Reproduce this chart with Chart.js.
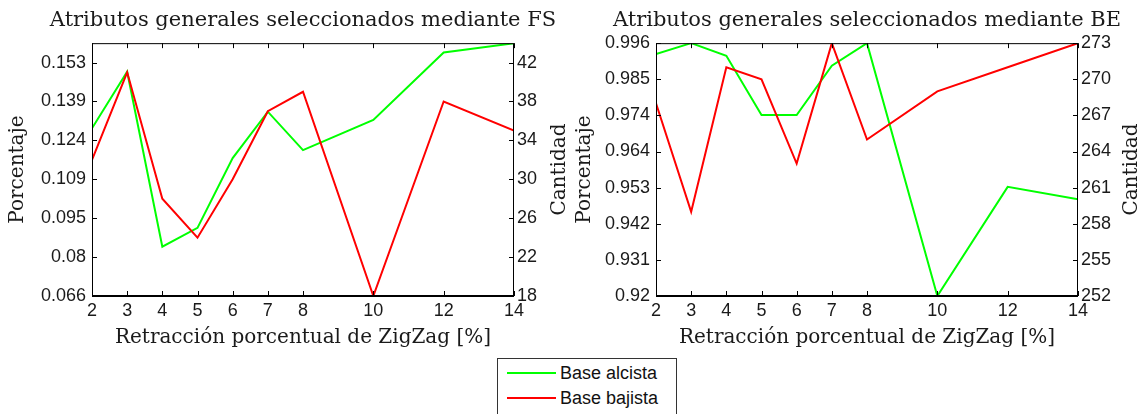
<!DOCTYPE html>
<html>
<head>
<meta charset="utf-8">
<script src="https://cdn.jsdelivr.net/npm/chart.js@4.4.1/dist/chart.umd.min.js"></script>
<style>
  html, body { margin: 0; padding: 0; background: #fff; width: 1147px; height: 414px; overflow: hidden; position: relative; }
  .box { position: absolute; top: 0; height: 352px; }
  #fsBox { left: 0; width: 606px; }
  #beBox { left: 567px; width: 600px; }
  #legend { position: absolute; left: 497px; top: 358px; width: 178px; height: 70px; border: 1px solid #333; background: #fff;
            font: 18px "Liberation Sans", Arial, sans-serif; color: #111; }
  #legend .row { position: absolute; left: 9px; height: 22px; display: flex; align-items: center; white-space: nowrap; }
  #legend .swatch { width: 49px; height: 2px; margin-right: 4px; }
</style>
</head>
<body>
<div class="box" id="fsBox"><canvas id="fsChart"></canvas></div>
<div class="box" id="beBox"><canvas id="beChart"></canvas></div>
<div id="legend"></div>

<script>
// ZigZag retraction (%) on the x axis
const zigzag = [2, 3, 4, 5, 6, 7, 8, 10, 12, 14];
const xTicks = [2, 3, 4, 5, 6, 7, 8, 10, 12, 14];

// FS: percentage (bullish base) and count (bearish base)
const fsAlcista = [0.1285, 0.1496, 0.0844, 0.0914, 0.1174, 0.1347, 0.1204, 0.1316, 0.1568, 0.1602];
const fsBajista = [32, 41, 28, 24, 30, 37, 39, 18, 38, 35];
const fsPctTicks = [0.066, 0.0805, 0.095, 0.1095, 0.124, 0.1385, 0.153];
const fsPctLabels = ['0.066', '0.08', '0.095', '0.109', '0.124', '0.139', '0.153'];
const fsCntTicks = [18, 22, 26, 30, 34, 38, 42];

// BE: percentage (bullish base) and count (bearish base)
const beAlcista = [0.9927, 0.996, 0.9922, 0.9744, 0.9744, 0.9892, 0.996, 0.92, 0.9528, 0.9491];
const beBajista = [268, 259, 271, 270, 263, 273, 265, 269, 271, 273];
const bePctTicks = [0.92, 0.930857, 0.941714, 0.952571, 0.963429, 0.974286, 0.985143, 0.996];
const bePctLabels = ['0.92', '0.931', '0.942', '0.953', '0.964', '0.974', '0.985', '0.996'];
const beCntTicks = [252, 255, 258, 261, 264, 267, 270, 273];

const SANS = '"Liberation Sans", Arial, sans-serif';
const SERIF = '"DejaVu Serif", serif';
const INK = '#1a1a1a';

// box around the axes, inward ticks, and the right-hand label read bottom-to-top
const matlabAxes = {
  id: 'matlabAxes',
  afterDatasetsDraw(chart, args, opts) {
    const { ctx, chartArea: a, scales } = chart;
    ctx.save();
    ctx.strokeStyle = '#000';
    ctx.lineWidth = 1;
    ctx.strokeRect(a.left + 0.5, a.top + 0.5, a.right - a.left - 1, a.bottom - a.top);
    ctx.lineWidth = 2;
    ctx.beginPath();
    ctx.moveTo(a.left, a.bottom); ctx.lineTo(a.right, a.bottom);
    ctx.stroke();

    ctx.lineWidth = 1;
    ctx.beginPath();
    scales.x.ticks.forEach(t => {
      const px = Math.round(scales.x.getPixelForValue(t.value)) + 0.5;
      ctx.moveTo(px, a.bottom); ctx.lineTo(px, a.bottom - 5);
      ctx.moveTo(px, a.top); ctx.lineTo(px, a.top + 5);
    });
    scales.yL.ticks.forEach(t => {
      const py = Math.round(scales.yL.getPixelForValue(t.value)) + 0.5;
      ctx.moveTo(a.left, py); ctx.lineTo(a.left + 5, py);
    });
    scales.yR.ticks.forEach(t => {
      const py = Math.round(scales.yR.getPixelForValue(t.value)) + 0.5;
      ctx.moveTo(a.right, py); ctx.lineTo(a.right - 5, py);
    });
    ctx.stroke();

    ctx.fillStyle = INK;
    ctx.font = '20px ' + SERIF;
    ctx.textAlign = 'center';
    ctx.textBaseline = 'middle';
    ctx.translate(opts.titleX, (a.top + a.bottom) / 2);
    ctx.rotate(-Math.PI / 2);
    ctx.fillText(opts.title, 0, 0);
    ctx.restore();
  }
};

function makeChart(id, o) {
  const tickFont = { family: SANS, size: 18 };
  const titleFont = { family: SERIF, size: 20, weight: 'normal' };
  return new Chart(document.getElementById(id), {
    type: 'line',
    data: {
      datasets: [
        { label: 'Base alcista', data: zigzag.map((x, i) => ({ x, y: o.alcista[i] })), yAxisID: 'yL',
          borderColor: '#00ff00', backgroundColor: '#00ff00', borderWidth: 2, pointRadius: 0, tension: 0, order: 1 },
        { label: 'Base bajista', data: zigzag.map((x, i) => ({ x, y: o.bajista[i] })), yAxisID: 'yR',
          borderColor: '#ff0000', backgroundColor: '#ff0000', borderWidth: 2, pointRadius: 0, tension: 0, order: 0 }
      ]
    },
    plugins: [matlabAxes],
    options: {
      responsive: true,
      maintainAspectRatio: false,
      animation: false,
      devicePixelRatio: 1,
      layout: { padding: 0 },
      plugins: {
        legend: { display: false },
        tooltip: { enabled: false },
        title: { display: true, text: o.title, font: { family: SERIF, size: 21, weight: 'normal', lineHeight: 1.15 },
                 color: INK, padding: { top: 8, bottom: 11 } },
        matlabAxes: { title: 'Cantidad', titleX: o.rightTitleX }
      },
      scales: {
        x: {
          type: 'linear', min: 2, max: 14,
          afterBuildTicks: s => { s.ticks = xTicks.map(v => ({ value: v })); },
          afterFit: s => { s.height = 56; },
          grid: { display: false, drawTicks: false },
          border: { display: false },
          ticks: { autoSkip: false, maxRotation: 0, padding: 4, font: tickFont, color: INK, callback: v => String(v) },
          title: { display: true, text: 'Retracción porcentual de ZigZag [%]', font: titleFont, color: INK, padding: { top: 0, bottom: 2 } }
        },
        yL: {
          type: 'linear', position: 'left', min: o.pctMin, max: o.pctMax,
          afterBuildTicks: s => { s.ticks = o.pctTicks.map(v => ({ value: v })); },
          afterFit: s => { s.width = o.leftW; },
          grid: { display: false, drawTicks: false },
          border: { display: false },
          ticks: { autoSkip: false, padding: 6, font: tickFont, color: INK, callback: (v, i) => o.pctLabels[i] },
          title: { display: true, text: 'Porcentaje', font: titleFont, color: INK, padding: { top: 6, bottom: 0 } }
        },
        yR: {
          type: 'linear', position: 'right', min: o.cntMin, max: o.cntMax,
          afterBuildTicks: s => { s.ticks = o.cntTicks.map(v => ({ value: v })); },
          afterFit: s => { s.width = o.rightW; },
          grid: { display: false, drawTicks: false },
          border: { display: false },
          ticks: { autoSkip: false, padding: 3, font: tickFont, color: INK, callback: v => String(v) }
        }
      }
    }
  });
}

const fsChart = makeChart('fsChart', {
  title: 'Atributos generales seleccionados mediante FS',
  alcista: fsAlcista, bajista: fsBajista,
  pctMin: 0.066, pctMax: 0.16025, pctTicks: fsPctTicks, pctLabels: fsPctLabels,
  cntMin: 18, cntMax: 44, cntTicks: fsCntTicks,
  leftW: 92, rightW: 92, rightTitleX: 560
});

const beChart = makeChart('beChart', {
  title: 'Atributos generales seleccionados mediante BE',
  alcista: beAlcista, bajista: beBajista,
  pctMin: 0.92, pctMax: 0.996, pctTicks: bePctTicks, pctLabels: bePctLabels,
  cntMin: 252, cntMax: 273, cntTicks: beCntTicks,
  leftW: 89, rightW: 89, rightTitleX: 565
});

// shared legend under both plots, built from the datasets
const legend = document.getElementById('legend');
fsChart.data.datasets.forEach((ds, i) => {
  const row = document.createElement('div');
  row.className = 'row';
  row.style.top = (3 + i * 25) + 'px';
  const sw = document.createElement('span');
  sw.className = 'swatch';
  sw.style.background = ds.borderColor;
  const txt = document.createElement('span');
  txt.innerText = ds.label;
  row.appendChild(sw);
  row.appendChild(txt);
  legend.appendChild(row);
});
</script>
</body>
</html>
